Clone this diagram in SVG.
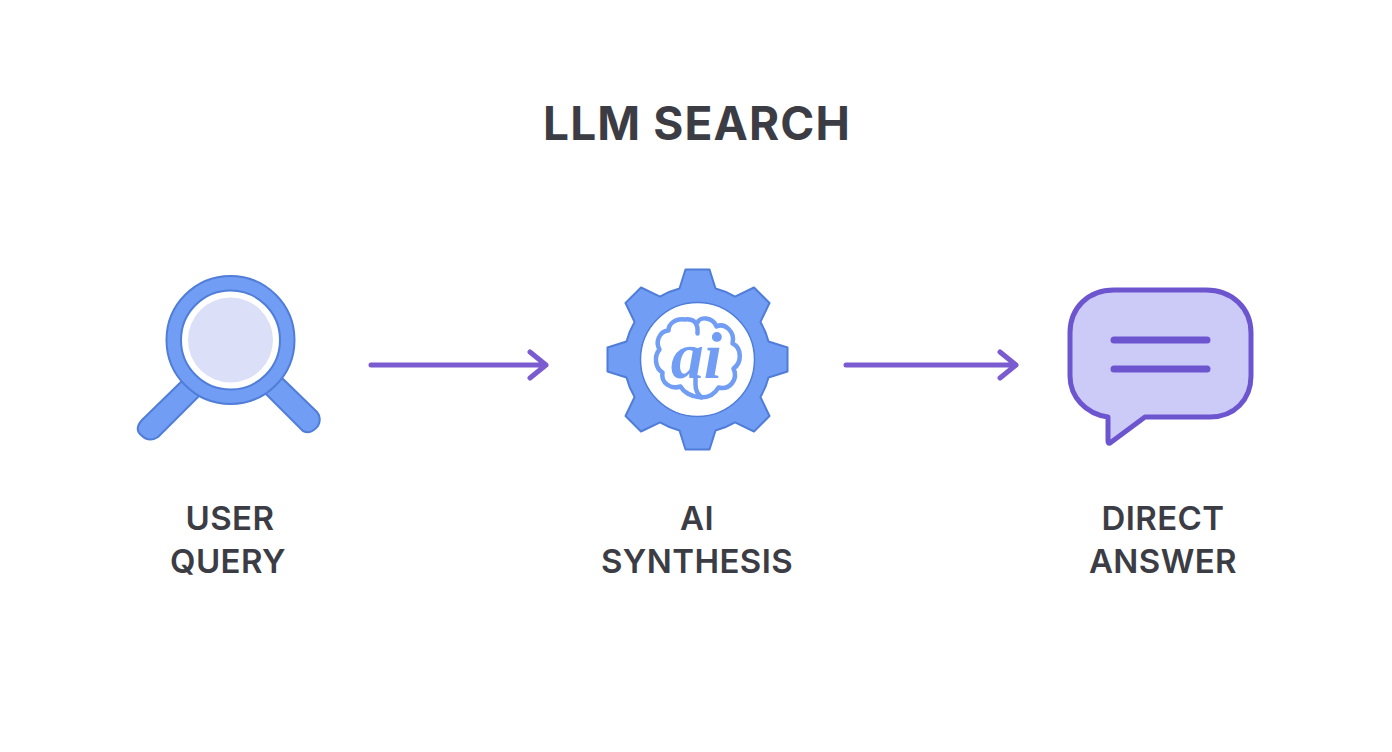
<svg xmlns="http://www.w3.org/2000/svg" width="1392" height="752" viewBox="0 0 1392 752">
<style>
text{font-family:"Inter","Liberation Sans",sans-serif;font-weight:600;fill:#3c3d44;text-anchor:middle}
.title{font-size:46px;font-weight:700;letter-spacing:1.100px}
.lab{font-size:33px;letter-spacing:.400px}
.blue{fill:#719df5;stroke:#4f7dd8;stroke-width:2;stroke-linejoin:round}
.fillonly{fill:#719df5}
.arrow{fill:none;stroke:#7a5cd0;stroke-width:5;stroke-linecap:round;stroke-linejoin:round}
.bar{fill:none;stroke:#6d55cf;stroke-width:7;stroke-linecap:round}
</style>
<rect width="1392" height="752" fill="#ffffff"/>
<text class="title" x="697" y="140">LLM SEARCH</text>
<g id="connectors">
<path class="arrow" d="M371 365H546M530 352L546 365L530 378"/>
<path class="arrow" d="M846 365H1016M1000 352L1016 365L1000 378"/>
</g>
<g id="user-query">
<path class="blue" d="M183 380L142 420Q134 429 141 435Q149 443 158 437L199 396ZM265 393L303 431Q311 435 318 426Q322 418 317 412L282 378Z"/>
<circle class="blue" cx="230.500" cy="340" r="64"/>
<path class="fillonly" d="M184.500 379.500L199.500 394.500L206 387L191 372ZM281.500 377L266 392.500L259 385L274 370Z"/>
<circle cx="230.500" cy="340" r="49.500" fill="#ffffff" stroke="#4f7dd8" stroke-width="2"/>
<circle cx="230.500" cy="340" r="42.500" fill="#dcdff8"/>
<text class="lab" x="230" y="530">USER</text>
<text class="lab" x="228" y="573">QUERY</text>
</g>
<g id="ai-synthesis">
<g transform="translate(697.500 359.500)">
<path class="blue" d="M-18-71L-12-90H12L18-71A73 73 0 0 1 37.500-62.900L56.500-72L72-56.500L62.900-37.500A73 73 0 0 1 71-18L90-12V12L71 18A73 73 0 0 1 62.900 37.500L72 56.500L56.500 72L37.500 62.900A73 73 0 0 1 18 71L12 90H-12L-18 71A73 73 0 0 1 -37.500 62.900L-56.500 72L-72 56.500L-62.900 37.500A73 73 0 0 1 -71 18L-90 12V-12L-71-18A73 73 0 0 1 -62.900-37.500L-72-56.500L-56.500-72L-37.500-62.900A73 73 0 0 1 -18-71Z"/>
<circle r="57" fill="#ffffff" stroke="#4f7dd8" stroke-width="1.500"/>
<path fill="none" stroke="#719df5" stroke-width="4.500" stroke-linejoin="round" stroke-linecap="round" d="M0-26C1-38-5-41-13-40C-22-41-29-36-29-29C-39-28-42-17-38-10C-44-3-42 9-35 13C-37 24-26 30-17 27C-11 38 12 44 21 28C32 31 41 20 36 9C45 3 44-12 35-16C38-28 27-37 19-33C15-43 2-43 0-37M-2 17V25Q-2 33 4 38"/>
<text x="-1" y="18" font-size="66" style="font-family:'Liberation Serif',serif;font-style:italic;font-weight:700;fill:#719df5">ai</text>
</g>
<text class="lab" x="697" y="530">AI</text>
<text class="lab" x="697" y="573">SYNTHESIS</text>
</g>
<g id="direct-answer">
<path fill="#cccbf8" stroke="#6d55cf" stroke-width="5" stroke-linejoin="round" d="M1108 417C1086 414 1070 397 1070 376V333C1070 308 1088 290 1114 290H1206C1232 290 1251 308 1251 333V376C1251 400 1234 417 1210 417H1145L1110 443Q1108 444 1108 441Z"/>
<path class="bar" d="M1114 340H1207M1114 369H1207"/>
<text class="lab" x="1163" y="530">DIRECT</text>
<text class="lab" x="1163" y="573">ANSWER</text>
</g>
</svg>
